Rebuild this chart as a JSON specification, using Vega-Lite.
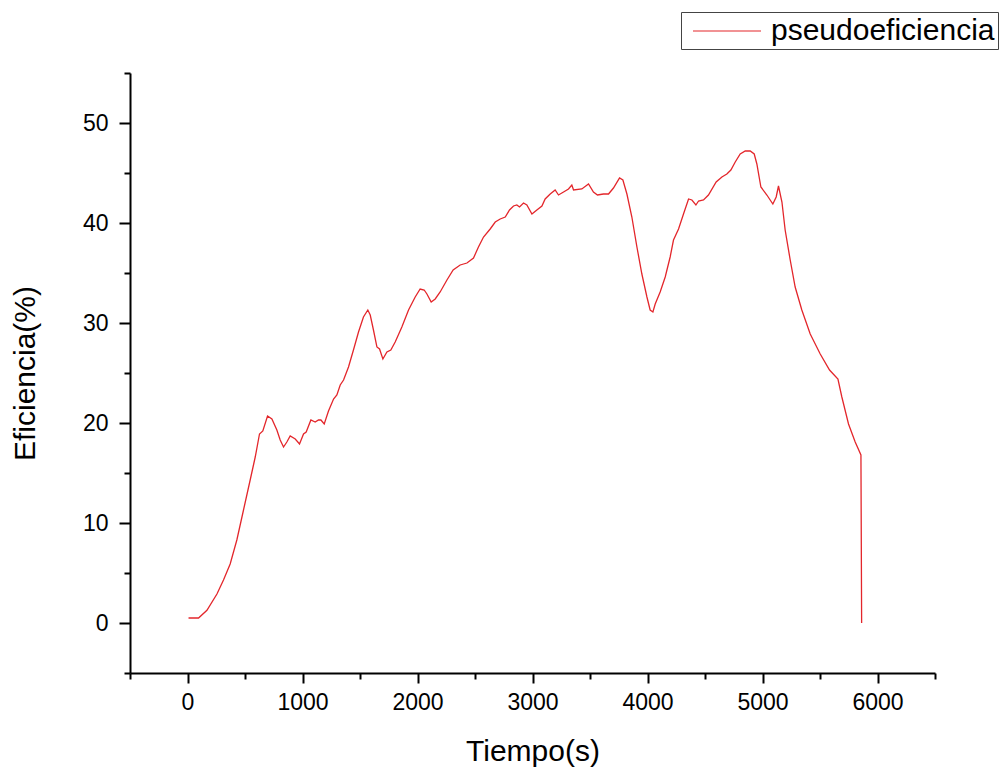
{
  "$schema": "https://vega.github.io/schema/vega-lite/v6.json",
  "width": 805,
  "height": 600,
  "autosize": "none",
  "padding": {"left": 130, "top": 73, "right": 70, "bottom": 94},
  "background": "white",
  "config": {
    "view": {"stroke": null},
    "font": "Liberation Sans"
  },
  "data": {
    "values": [
      {"t": 9, "e": 0.5, "s": "pseudoeficiencia"},
      {"t": 96, "e": 0.5, "s": "pseudoeficiencia"},
      {"t": 169, "e": 1.27, "s": "pseudoeficiencia"},
      {"t": 256, "e": 2.9, "s": "pseudoeficiencia"},
      {"t": 313, "e": 4.3, "s": "pseudoeficiencia"},
      {"t": 371, "e": 5.9, "s": "pseudoeficiencia"},
      {"t": 429, "e": 8.3, "s": "pseudoeficiencia"},
      {"t": 487, "e": 11.3, "s": "pseudoeficiencia"},
      {"t": 545, "e": 14.3, "s": "pseudoeficiencia"},
      {"t": 589, "e": 16.6, "s": "pseudoeficiencia"},
      {"t": 626, "e": 18.9, "s": "pseudoeficiencia"},
      {"t": 655, "e": 19.2, "s": "pseudoeficiencia"},
      {"t": 696, "e": 20.7, "s": "pseudoeficiencia"},
      {"t": 734, "e": 20.4, "s": "pseudoeficiencia"},
      {"t": 777, "e": 19.3, "s": "pseudoeficiencia"},
      {"t": 806, "e": 18.3, "s": "pseudoeficiencia"},
      {"t": 835, "e": 17.6, "s": "pseudoeficiencia"},
      {"t": 864, "e": 18.1, "s": "pseudoeficiencia"},
      {"t": 893, "e": 18.7, "s": "pseudoeficiencia"},
      {"t": 937, "e": 18.4, "s": "pseudoeficiencia"},
      {"t": 974, "e": 17.9, "s": "pseudoeficiencia"},
      {"t": 1009, "e": 18.9, "s": "pseudoeficiencia"},
      {"t": 1032, "e": 19.1, "s": "pseudoeficiencia"},
      {"t": 1073, "e": 20.3, "s": "pseudoeficiencia"},
      {"t": 1110, "e": 20.1, "s": "pseudoeficiencia"},
      {"t": 1139, "e": 20.3, "s": "pseudoeficiencia"},
      {"t": 1160, "e": 20.3, "s": "pseudoeficiencia"},
      {"t": 1189, "e": 19.9, "s": "pseudoeficiencia"},
      {"t": 1226, "e": 21.2, "s": "pseudoeficiencia"},
      {"t": 1270, "e": 22.4, "s": "pseudoeficiencia"},
      {"t": 1299, "e": 22.8, "s": "pseudoeficiencia"},
      {"t": 1328, "e": 23.8, "s": "pseudoeficiencia"},
      {"t": 1357, "e": 24.3, "s": "pseudoeficiencia"},
      {"t": 1400, "e": 25.6, "s": "pseudoeficiencia"},
      {"t": 1443, "e": 27.3, "s": "pseudoeficiencia"},
      {"t": 1487, "e": 29.1, "s": "pseudoeficiencia"},
      {"t": 1530, "e": 30.6, "s": "pseudoeficiencia"},
      {"t": 1568, "e": 31.3, "s": "pseudoeficiencia"},
      {"t": 1589, "e": 30.8, "s": "pseudoeficiencia"},
      {"t": 1617, "e": 29.3, "s": "pseudoeficiencia"},
      {"t": 1647, "e": 27.6, "s": "pseudoeficiencia"},
      {"t": 1670, "e": 27.4, "s": "pseudoeficiencia"},
      {"t": 1699, "e": 26.4, "s": "pseudoeficiencia"},
      {"t": 1734, "e": 27.1, "s": "pseudoeficiencia"},
      {"t": 1768, "e": 27.3, "s": "pseudoeficiencia"},
      {"t": 1806, "e": 28.1, "s": "pseudoeficiencia"},
      {"t": 1864, "e": 29.6, "s": "pseudoeficiencia"},
      {"t": 1922, "e": 31.3, "s": "pseudoeficiencia"},
      {"t": 1980, "e": 32.6, "s": "pseudoeficiencia"},
      {"t": 2023, "e": 33.4, "s": "pseudoeficiencia"},
      {"t": 2058, "e": 33.3, "s": "pseudoeficiencia"},
      {"t": 2082, "e": 32.9, "s": "pseudoeficiencia"},
      {"t": 2119, "e": 32.1, "s": "pseudoeficiencia"},
      {"t": 2154, "e": 32.4, "s": "pseudoeficiencia"},
      {"t": 2197, "e": 33.1, "s": "pseudoeficiencia"},
      {"t": 2256, "e": 34.3, "s": "pseudoeficiencia"},
      {"t": 2310, "e": 35.3, "s": "pseudoeficiencia"},
      {"t": 2371, "e": 35.8, "s": "pseudoeficiencia"},
      {"t": 2430, "e": 36.0, "s": "pseudoeficiencia"},
      {"t": 2487, "e": 36.5, "s": "pseudoeficiencia"},
      {"t": 2530, "e": 37.6, "s": "pseudoeficiencia"},
      {"t": 2574, "e": 38.6, "s": "pseudoeficiencia"},
      {"t": 2632, "e": 39.4, "s": "pseudoeficiencia"},
      {"t": 2676, "e": 40.1, "s": "pseudoeficiencia"},
      {"t": 2719, "e": 40.4, "s": "pseudoeficiencia"},
      {"t": 2763, "e": 40.6, "s": "pseudoeficiencia"},
      {"t": 2800, "e": 41.3, "s": "pseudoeficiencia"},
      {"t": 2835, "e": 41.7, "s": "pseudoeficiencia"},
      {"t": 2864, "e": 41.8, "s": "pseudoeficiencia"},
      {"t": 2887, "e": 41.6, "s": "pseudoeficiencia"},
      {"t": 2922, "e": 42.0, "s": "pseudoeficiencia"},
      {"t": 2951, "e": 41.8, "s": "pseudoeficiencia"},
      {"t": 2995, "e": 40.9, "s": "pseudoeficiencia"},
      {"t": 3038, "e": 41.3, "s": "pseudoeficiencia"},
      {"t": 3082, "e": 41.7, "s": "pseudoeficiencia"},
      {"t": 3110, "e": 42.4, "s": "pseudoeficiencia"},
      {"t": 3154, "e": 42.9, "s": "pseudoeficiencia"},
      {"t": 3197, "e": 43.3, "s": "pseudoeficiencia"},
      {"t": 3226, "e": 42.8, "s": "pseudoeficiencia"},
      {"t": 3270, "e": 43.1, "s": "pseudoeficiencia"},
      {"t": 3313, "e": 43.4, "s": "pseudoeficiencia"},
      {"t": 3342, "e": 43.8, "s": "pseudoeficiencia"},
      {"t": 3357, "e": 43.3, "s": "pseudoeficiencia"},
      {"t": 3429, "e": 43.4, "s": "pseudoeficiencia"},
      {"t": 3487, "e": 43.9, "s": "pseudoeficiencia"},
      {"t": 3530, "e": 43.1, "s": "pseudoeficiencia"},
      {"t": 3565, "e": 42.8, "s": "pseudoeficiencia"},
      {"t": 3617, "e": 42.9, "s": "pseudoeficiencia"},
      {"t": 3661, "e": 42.9, "s": "pseudoeficiencia"},
      {"t": 3704, "e": 43.5, "s": "pseudoeficiencia"},
      {"t": 3757, "e": 44.5, "s": "pseudoeficiencia"},
      {"t": 3786, "e": 44.3, "s": "pseudoeficiencia"},
      {"t": 3821, "e": 42.9, "s": "pseudoeficiencia"},
      {"t": 3864, "e": 40.6, "s": "pseudoeficiencia"},
      {"t": 3908, "e": 37.6, "s": "pseudoeficiencia"},
      {"t": 3951, "e": 34.9, "s": "pseudoeficiencia"},
      {"t": 3995, "e": 32.6, "s": "pseudoeficiencia"},
      {"t": 4023, "e": 31.3, "s": "pseudoeficiencia"},
      {"t": 4047, "e": 31.1, "s": "pseudoeficiencia"},
      {"t": 4067, "e": 31.9, "s": "pseudoeficiencia"},
      {"t": 4110, "e": 33.1, "s": "pseudoeficiencia"},
      {"t": 4154, "e": 34.6, "s": "pseudoeficiencia"},
      {"t": 4197, "e": 36.6, "s": "pseudoeficiencia"},
      {"t": 4226, "e": 38.3, "s": "pseudoeficiencia"},
      {"t": 4270, "e": 39.4, "s": "pseudoeficiencia"},
      {"t": 4313, "e": 40.9, "s": "pseudoeficiencia"},
      {"t": 4357, "e": 42.4, "s": "pseudoeficiencia"},
      {"t": 4386, "e": 42.3, "s": "pseudoeficiencia"},
      {"t": 4421, "e": 41.8, "s": "pseudoeficiencia"},
      {"t": 4444, "e": 42.2, "s": "pseudoeficiencia"},
      {"t": 4487, "e": 42.3, "s": "pseudoeficiencia"},
      {"t": 4530, "e": 42.8, "s": "pseudoeficiencia"},
      {"t": 4597, "e": 44.1, "s": "pseudoeficiencia"},
      {"t": 4647, "e": 44.6, "s": "pseudoeficiencia"},
      {"t": 4690, "e": 44.9, "s": "pseudoeficiencia"},
      {"t": 4725, "e": 45.3, "s": "pseudoeficiencia"},
      {"t": 4763, "e": 46.1, "s": "pseudoeficiencia"},
      {"t": 4806, "e": 46.9, "s": "pseudoeficiencia"},
      {"t": 4850, "e": 47.2, "s": "pseudoeficiencia"},
      {"t": 4893, "e": 47.2, "s": "pseudoeficiencia"},
      {"t": 4928, "e": 46.9, "s": "pseudoeficiencia"},
      {"t": 4951, "e": 45.9, "s": "pseudoeficiencia"},
      {"t": 4986, "e": 43.6, "s": "pseudoeficiencia"},
      {"t": 5038, "e": 42.8, "s": "pseudoeficiencia"},
      {"t": 5090, "e": 41.9, "s": "pseudoeficiencia"},
      {"t": 5119, "e": 42.6, "s": "pseudoeficiencia"},
      {"t": 5139, "e": 43.7, "s": "pseudoeficiencia"},
      {"t": 5169, "e": 42.1, "s": "pseudoeficiencia"},
      {"t": 5197, "e": 39.3, "s": "pseudoeficiencia"},
      {"t": 5241, "e": 36.3, "s": "pseudoeficiencia"},
      {"t": 5284, "e": 33.6, "s": "pseudoeficiencia"},
      {"t": 5342, "e": 31.3, "s": "pseudoeficiencia"},
      {"t": 5415, "e": 28.9, "s": "pseudoeficiencia"},
      {"t": 5502, "e": 26.9, "s": "pseudoeficiencia"},
      {"t": 5583, "e": 25.3, "s": "pseudoeficiencia"},
      {"t": 5656, "e": 24.4, "s": "pseudoeficiencia"},
      {"t": 5690, "e": 22.6, "s": "pseudoeficiencia"},
      {"t": 5748, "e": 19.9, "s": "pseudoeficiencia"},
      {"t": 5806, "e": 18.1, "s": "pseudoeficiencia"},
      {"t": 5856, "e": 16.8, "s": "pseudoeficiencia"},
      {"t": 5862, "e": 0, "s": "pseudoeficiencia"}
    ]
  },
  "mark": {"type": "line", "strokeWidth": 1.3, "interpolate": "linear"},
  "encoding": {
    "x": {
      "field": "t",
      "type": "quantitative",
      "scale": {"domain": [-500, 6500], "nice": false, "zero": false},
      "axis": {
        "title": "Tiempo(s)",
        "values": [-500, 0, 500, 1000, 1500, 2000, 2500, 3000, 3500, 4000, 4500, 5000, 5500, 6000, 6500],
        "labelExpr": "datum.value % 1000 === 0 ? datum.label : ''",
        "format": "d",
        "grid": false,
        "domainColor": "black",
        "domainWidth": 2,
        "tickColor": "black",
        "tickWidth": 2,
        "tickSize": {"condition": {"test": "datum.value % 1000 === 0", "value": 10}, "value": 6},
        "labelFontSize": 23,
        "labelColor": "black",
        "labelPadding": 8,
        "labelFlush": false,
        "labelOverlap": false,
        "titleFontSize": 30,
        "titleFontWeight": "normal",
        "titleColor": "black",
        "titlePadding": 22
      }
    },
    "y": {
      "field": "e",
      "type": "quantitative",
      "scale": {"domain": [-5, 55], "nice": false, "zero": false},
      "axis": {
        "title": "Eficiencia(%)",
        "values": [-5, 0, 5, 10, 15, 20, 25, 30, 35, 40, 45, 50, 55],
        "labelExpr": "datum.value % 10 === 0 ? datum.label : ''",
        "grid": false,
        "domainColor": "black",
        "domainWidth": 2,
        "tickColor": "black",
        "tickWidth": 2,
        "tickSize": {"condition": {"test": "datum.value % 10 === 0", "value": 11}, "value": 6},
        "labelFontSize": 23,
        "labelColor": "black",
        "labelPadding": 11,
        "labelFlush": false,
        "labelOverlap": false,
        "titleFontSize": 30,
        "titleFontWeight": "normal",
        "titleColor": "black",
        "titlePadding": 42
      }
    },
    "color": {
      "field": "s",
      "type": "nominal",
      "scale": {"range": ["#e3262b"]},
      "legend": {
        "title": null,
        "orient": "none",
        "legendX": 551,
        "legendY": -61,
        "strokeColor": "#444444",
        "padding": 3,
        "symbolType": "M-2.27,0H2.27",
        "symbolSize": 900,
        "symbolOffset": 27,
        "symbolStrokeWidth": 1.2,
        "labelFontSize": 30,
        "labelColor": "black",
        "labelOffset": 28,
        "labelLimit": 500
      }
    }
  }
}
